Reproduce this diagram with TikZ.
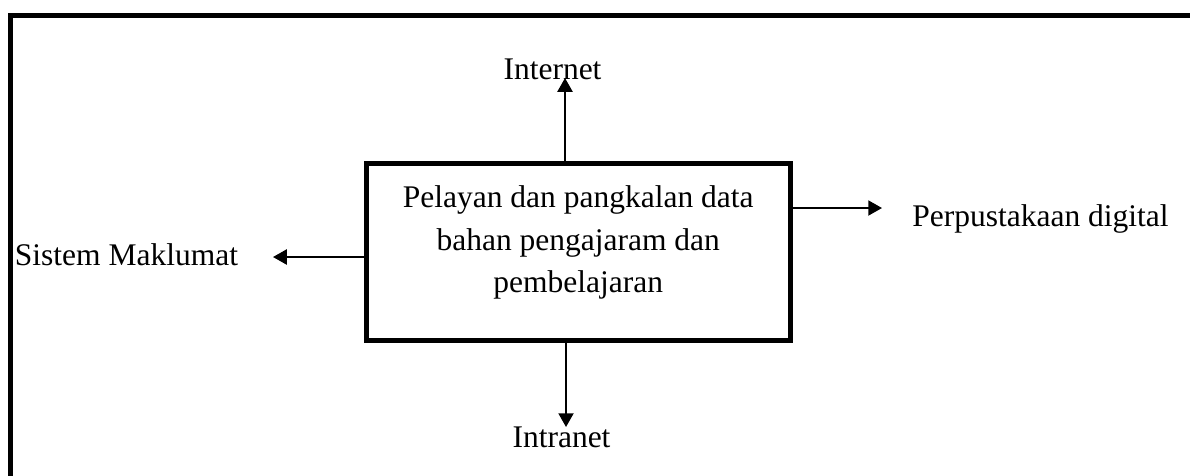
\documentclass[tikz,border=0pt]{standalone}
\usepackage{fontspec}
\setmainfont{Liberation Serif}
\usetikzlibrary{arrows.meta,positioning}

\begin{document}
\begin{tikzpicture}[x=0.4pt,y=-0.4pt,
	kotak/.style = {draw, line width=2pt, minimum width=169.8pt, minimum height=71pt, inner sep=0pt},
	teks/.style = {inner sep=0pt, font=\fontsize{12.6}{17}\selectfont},
	panah/.style = {-{Triangle[length=5.5pt,width=6pt]}, line width=0.8pt}]
	
	\useasboundingbox (0,0) rectangle (1190,475);
	% bingkai luar
	\draw[line width=2.1pt] (1200,15.3) -- (10.5,15.3) -- (10.5,485);
	
	\node[kotak] (pelayan) at (578.25,251.75) {};
	\node[teks, align=center, below=10pt of pelayan.north] (isi) {Pelayan dan pangkalan data\\bahan pengajaram dan\\pembelajaran};
	
	\node[teks, anchor=base] (internet) at (552.5,79) {Internet};
	\node[teks, anchor=base] (intranet) at (561.5,447) {Intranet};
	\node[teks, anchor=base] (sistem) at (126.5,265.5) {Sistem Maklumat};
	\node[teks, anchor=base] (perpustakaan) at (1040.5,226) {Perpustakaan digital};
	
	\coordinate (ujungatas) at (565,78);
	\coordinate (ujungbawah) at (566,427);
	\coordinate (ujungkiri) at (273,257);
	\coordinate (ujungkanan) at (882,208);
	
	\draw[panah] (pelayan.north -| ujungatas) -- (ujungatas);
	\draw[panah] (pelayan.south -| ujungbawah) -- (ujungbawah);
	\draw[panah] (pelayan.west |- ujungkiri) -- (ujungkiri);
	\draw[panah] (pelayan.east |- ujungkanan) -- (ujungkanan);
\end{tikzpicture}
\end{document}
